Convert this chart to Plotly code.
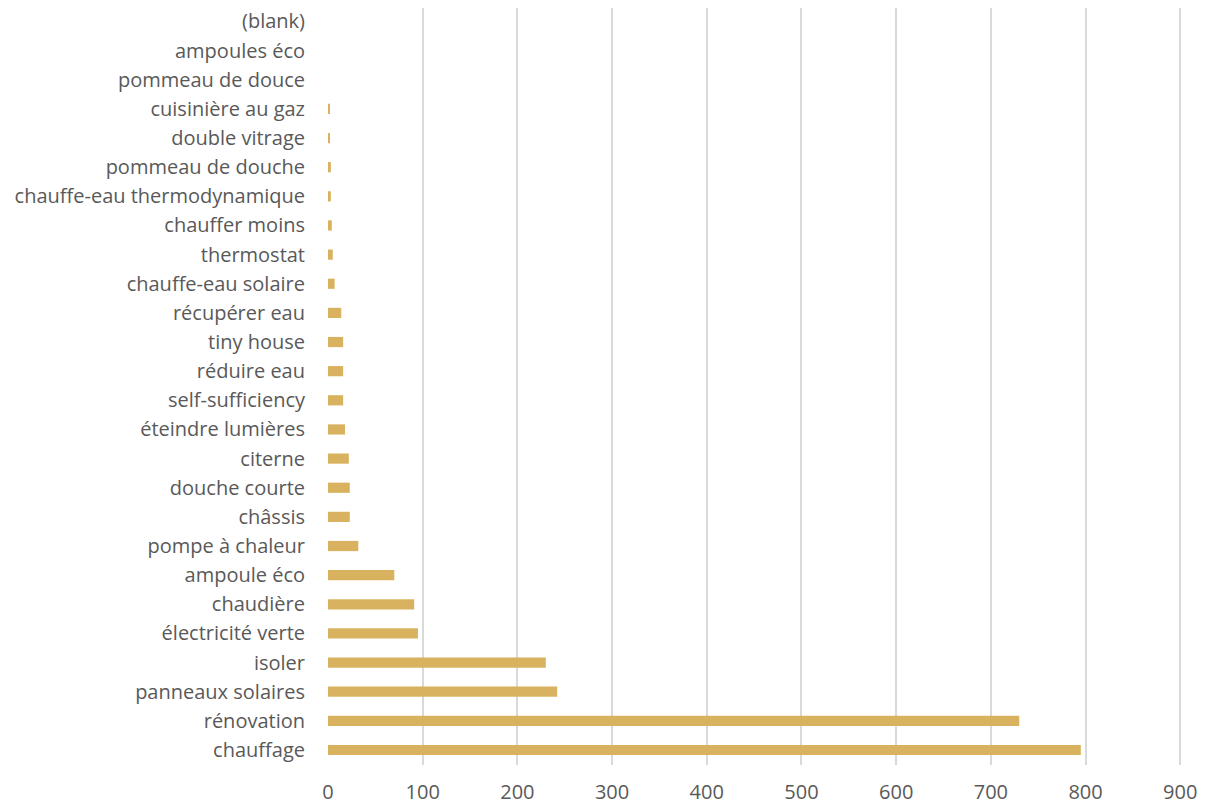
import plotly.graph_objects as go

categories = ["chauffage", "rénovation", "panneaux solaires", "isoler", "électricité verte",
              "chaudière", "ampoule éco", "pompe à chaleur", "châssis", "douche courte",
              "citerne", "éteindre lumières", "self-sufficiency", "réduire eau", "tiny house",
              "récupérer eau", "chauffe-eau solaire", "thermostat", "chauffer moins",
              "chauffe-eau thermodynamique", "pommeau de douche", "double vitrage",
              "cuisinière au gaz", "pommeau de douce", "ampoules éco", "(blank)"]
values = [795, 730, 242, 230, 95, 91, 70, 32, 23, 23, 22, 18, 16, 16, 16, 14, 7, 5, 4, 3, 3, 2, 2, 0, 0, 0]
tick_vals = [0, 100, 200, 300, 400, 500, 600, 700, 800, 900]

fig = go.Figure(go.Bar(
    x=values, y=categories, orientation="h",
    marker=dict(color="#D9B25F", line=dict(width=0)),
))
# page body has an 8px margin; figure is offset by (8, 8)
fig.update_layout(
    width=1197, height=797,
    margin=dict(l=320, r=20, t=0, b=40),
    paper_bgcolor="white", plot_bgcolor="white",
    bargap=0.65,
    showlegend=False,
    font=dict(family="Open Sans", size=20, color="#595959"),
)
fig.update_xaxes(range=[0, 905], tickvals=tick_vals, showgrid=True, gridcolor="#D9D9D9",
                 gridwidth=1.5, zeroline=False, showline=False, ticks="", automargin=False,
                 ticklabelstandoff=13, tickfont=dict(size=20))
fig.update_yaxes(categoryorder="array", categoryarray=categories, showgrid=False,
                 zeroline=False, showline=False, ticks="", ticklabelstandoff=22, automargin=False,
                 range=[-0.515, 25.463])
fig.write_html("out.html")
